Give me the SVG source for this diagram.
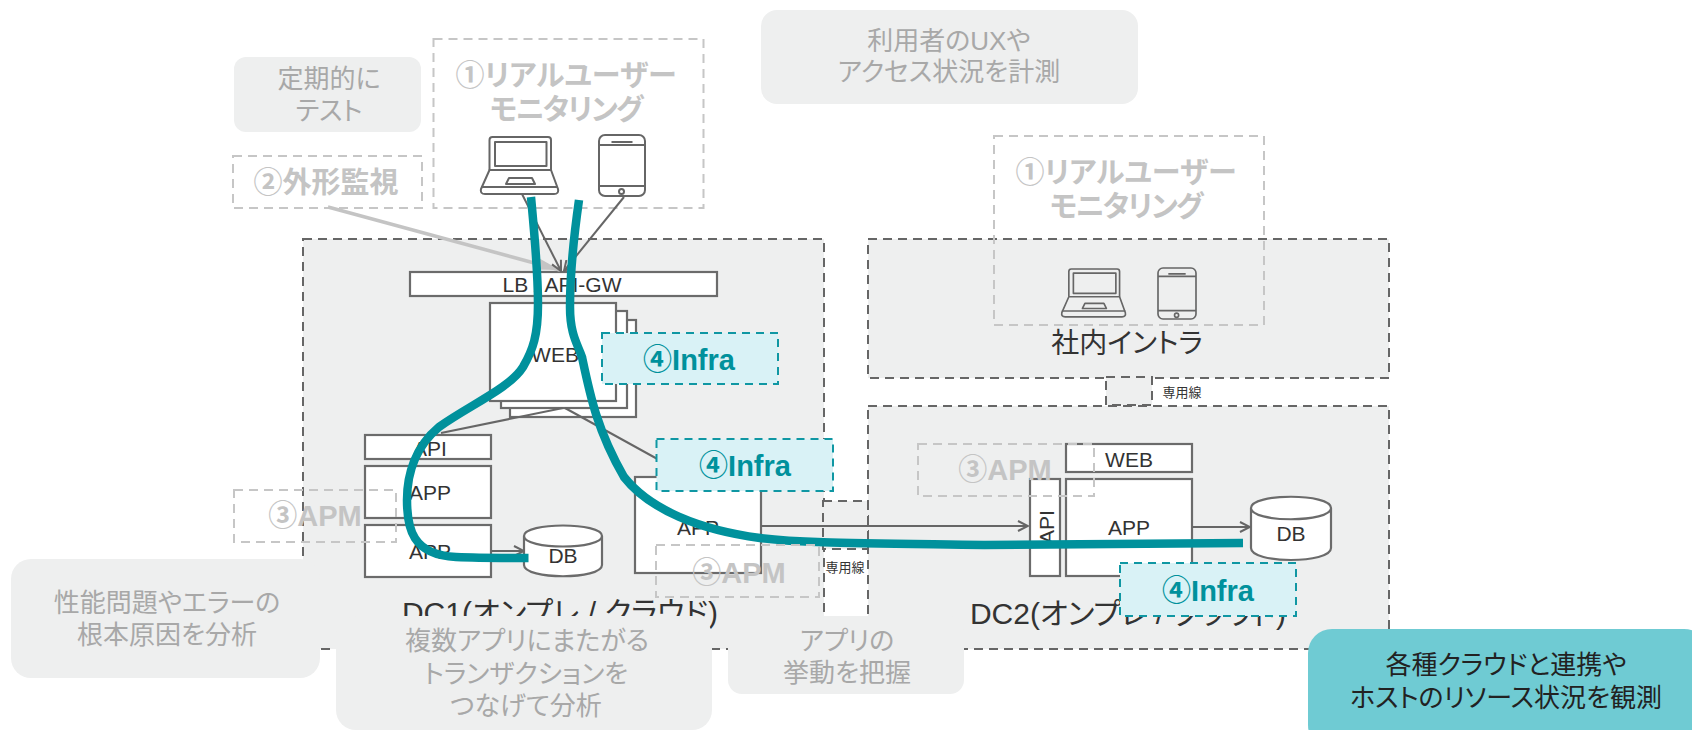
<svg xmlns="http://www.w3.org/2000/svg" width="1692" height="730" viewBox="0 0 1692 730">
<style>
text{font-family:"Liberation Sans","Noto Sans CJK JP",sans-serif;text-anchor:middle;dominant-baseline:central;font-feature-settings:"palt"}
.region{fill:#eeefef;stroke:#666;stroke-width:2;stroke-dasharray:9 6}
.box{fill:#fff;stroke:#6b6b6b;stroke-width:2.2}
.lbl{fill:#333;font-size:21px}
.region-lbl{fill:#333;font-size:30px}
.small{fill:#333;font-size:13px}
.dash{fill:none;stroke:#c6c6c6;stroke-width:2;stroke-dasharray:9 6}
.dash-l{fill:#c4c4c4;font-size:29px;font-weight:bold}
.tight{letter-spacing:-1.500px}
.note{fill:#eeefef}
.note-t{fill:#a8a8a8;font-size:26px}
.infra{fill:#d9f2f6;stroke:#0f97a3;stroke-width:2;stroke-dasharray:8 6}
.infra-t{fill:#00919c;font-size:29px;font-weight:bold}
.thin{fill:none;stroke:#666;stroke-width:2;marker-end:url(#arrow)}
.plain{fill:none;stroke:#666;stroke-width:2}
.teal{fill:none;stroke:#00919c;stroke-width:8.500}
.icon{fill:none;stroke:#666;stroke-width:2;stroke-linejoin:round}
</style>
<defs>
<marker id="arrow" viewBox="0 0 12 12" refX="11" refY="6" markerWidth="12" markerHeight="12" markerUnits="userSpaceOnUse" orient="auto"><path d="M1 1L11 6L1 11" fill="none" stroke="#666" stroke-width="2"/></marker>
<marker id="greyhead" viewBox="0 0 24 12" refX="24" refY="6" markerWidth="24" markerHeight="12" markerUnits="userSpaceOnUse" orient="auto"><path d="M0 0L24 6L0 12Z" fill="#c4c4c4"/></marker>
<g id="laptop-shape" class="icon">
<path d="M9.5 33V3Q9.5 0 12.5 0H68Q71 0 71 3V33"/><rect x="15" y="5" width="51.500" height="24"/>
<path d="M9.500 33H71L78 52Q79 57 74 57H5Q0 57 1 52Z"/><path d="M1 50H78"/><path d="M29 41H52L55 47H26Z"/>
</g>
<g id="phone-shape" class="icon">
<rect x="0" y="0" width="46" height="61" rx="6"/><path d="M0 10H46M0 51H46M12.500 7H33.500"/><circle cx="22.500" cy="56.500" r="2.500"/>
</g>
</defs>

<g id="dc1"><rect class="region" x="303" y="239" width="521" height="410"/><text class="region-lbl" x="560" y="612">DC1(オンプレ / クラウド)</text></g>
<g id="intra"><rect class="region" x="868" y="239" width="521" height="139"/><text class="region-lbl" x="1127" y="343" style="font-size:28px">社内イントラ</text></g>
<g id="dc2"><rect class="region" x="868" y="406" width="521" height="243"/><text class="region-lbl" x="1128" y="613">DC2(オンプレ / クラウド)</text></g>
<g id="line-a"><rect class="region" x="1106" y="377" width="46" height="28"/><text class="small" x="1182" y="392">専用線</text></g>
<g id="line-b"><rect class="region" x="823" y="501" width="45" height="48"/><text class="small" x="845" y="567">専用線</text></g>

<g id="lb"><rect class="box" x="410" y="272" width="307" height="24"/><text class="lbl" x="562" y="284">LB / API-GW</text></g>
<g id="web-stack">
<rect class="box" x="510" y="320" width="126" height="97"/><rect class="box" x="501" y="311" width="126" height="97"/><rect class="box" x="490" y="303" width="126" height="98"/>
<text class="lbl" x="555" y="354">WEB</text></g>
<g id="api1"><rect class="box" x="365" y="435" width="126" height="24"/><text class="lbl" x="430" y="448">API</text></g>
<g id="app1a"><rect class="box" x="365" y="466" width="126" height="52"/><text class="lbl" x="430" y="492">APP</text></g>
<g id="app1b"><rect class="box" x="365" y="525" width="126" height="52"/><text class="lbl" x="430" y="551">APP</text></g>
<g id="db1"><path class="box" d="M524 536V565C524 580 602 580 602 565V536C602 522 524 522 524 536C524 550 602 550 602 536"/><text class="lbl" x="563" y="555">DB</text></g>
<g id="app-mid"><rect class="box" x="635" y="477" width="126" height="96"/><text class="lbl" x="698" y="527">APP</text></g>
<g id="web2"><rect class="box" x="1066" y="444" width="126" height="28"/><text class="lbl" x="1129" y="459">WEB</text></g>
<g id="app2"><rect class="box" x="1066" y="479" width="126" height="97"/><text class="lbl" x="1129" y="527">APP</text></g>
<g id="api2"><rect class="box" x="1030" y="479" width="30" height="97"/><text class="lbl" transform="translate(1046 527) rotate(-90)">API</text></g>
<g id="db2"><path class="box" d="M1251 508V548C1251 564 1331 564 1331 548V508C1331 493 1251 493 1251 508C1251 523 1331 523 1331 508"/><text class="lbl" x="1291" y="533">DB</text></g>

<g id="rum1"><rect class="dash" x="433.500" y="39" width="270" height="169"/><text class="dash-l" x="566" y="76">①リアルユーザー</text><text class="dash-l tight" x="566" y="110">モニタリング</text>
<use href="#laptop-shape" x="480" y="137"/><use href="#phone-shape" x="599" y="135"/></g>
<g id="rum2"><rect class="dash" x="994" y="136" width="270" height="189"/><text class="dash-l" x="1126" y="173">①リアルユーザー</text><text class="dash-l tight" x="1126" y="207">モニタリング</text>
<use href="#laptop-shape" transform="translate(1061 269) scale(.825 .84)"/><use href="#phone-shape" transform="translate(1158 268) scale(.826 .836)"/></g>
<g id="synthetic"><rect class="dash" x="233" y="156" width="189" height="52"/><text class="dash-l" x="326" y="183">②外形監視</text></g>

<g id="connectors">
<path d="M328 207L560 270" fill="none" stroke="#c4c4c4" stroke-width="3.500" marker-end="url(#greyhead)"/>
<path class="thin" d="M522 194L561 271"/>
<path class="thin" d="M624 197L564 271"/>
<path class="plain" d="M563 408L441 433"/>
<path class="plain" d="M565 408L690 477"/>
<path class="thin" d="M491 551H524"/>
<path class="thin" d="M761 526H1028"/>
<path class="thin" d="M1192 527H1250"/>
<path class="teal" d="M531 197C535 240 538 270 538 304C538 335 533 350 523 367C510 388 470 405 439 427C415 447 407 475 407 500C407 528 412 555 456 557C480 558 505 558 528.500 558"/>
<path class="teal" d="M579 200C574 235 570 270 570 307C570 335 578 345 582 357C590 395 597 430 624 477C650 510 700 530 760 538C800 543 850 543 984 545C1080 545 1170 543 1243 543"/>
</g>

<g id="apm1"><rect class="dash" x="234" y="490" width="162" height="52"/><text class="dash-l" x="315" y="516">③APM</text></g>
<g id="apm2"><rect class="dash" x="656" y="545" width="163" height="52"/><text class="dash-l" x="739" y="573">③APM</text></g>
<g id="apm3"><rect class="dash" x="918" y="444" width="176" height="52"/><text class="dash-l" x="1005" y="470">③APM</text></g>

<g id="infra1"><rect class="infra" x="602" y="333" width="176" height="51"/><text class="infra-t" x="689" y="360">④Infra</text></g>
<g id="infra2"><rect class="infra" x="656.500" y="439" width="176.500" height="52"/><text class="infra-t" x="745" y="466">④Infra</text></g>
<g id="infra3"><rect class="infra" x="1120" y="563" width="176" height="53"/><text class="infra-t" x="1208" y="591">④Infra</text></g>

<g id="note-test"><rect class="note" x="234" y="57" width="187" height="75" rx="12"/><text class="note-t" x="329" y="79">定期的に</text><text class="note-t" x="329" y="111">テスト</text></g>
<g id="note-ux"><rect class="note" x="761" y="10" width="377" height="94" rx="16"/><text class="note-t" x="949" y="41">利用者のUXや</text><text class="note-t" x="949" y="72">アクセス状況を計測</text></g>
<g id="note-perf"><rect class="note" x="11" y="559" width="309" height="119" rx="20"/><text class="note-t" x="167" y="603">性能問題やエラーの</text><text class="note-t" x="167" y="635">根本原因を分析</text></g>
<g id="note-tx"><rect class="note" x="336" y="616" width="376" height="114" rx="20"/><text class="note-t" x="527" y="641">複数アプリにまたがる</text><text class="note-t" x="526" y="674">トランザクションを</text><text class="note-t" x="526" y="706">つなげて分析</text></g>
<g id="note-app"><rect class="note" x="728" y="616" width="236" height="78" rx="14"/><text class="note-t" x="847" y="641">アプリの</text><text class="note-t" x="847" y="673">挙動を把握</text></g>
<g id="note-cloud"><rect x="1308" y="629" width="400" height="120" rx="24" fill="#6fcbd3"/><text x="1506" y="665" style="fill:#222;font-size:26px">各種クラウドと連携や</text><text x="1506" y="698" style="fill:#222;font-size:26px">ホストのリソース状況を観測</text></g>
</svg>
